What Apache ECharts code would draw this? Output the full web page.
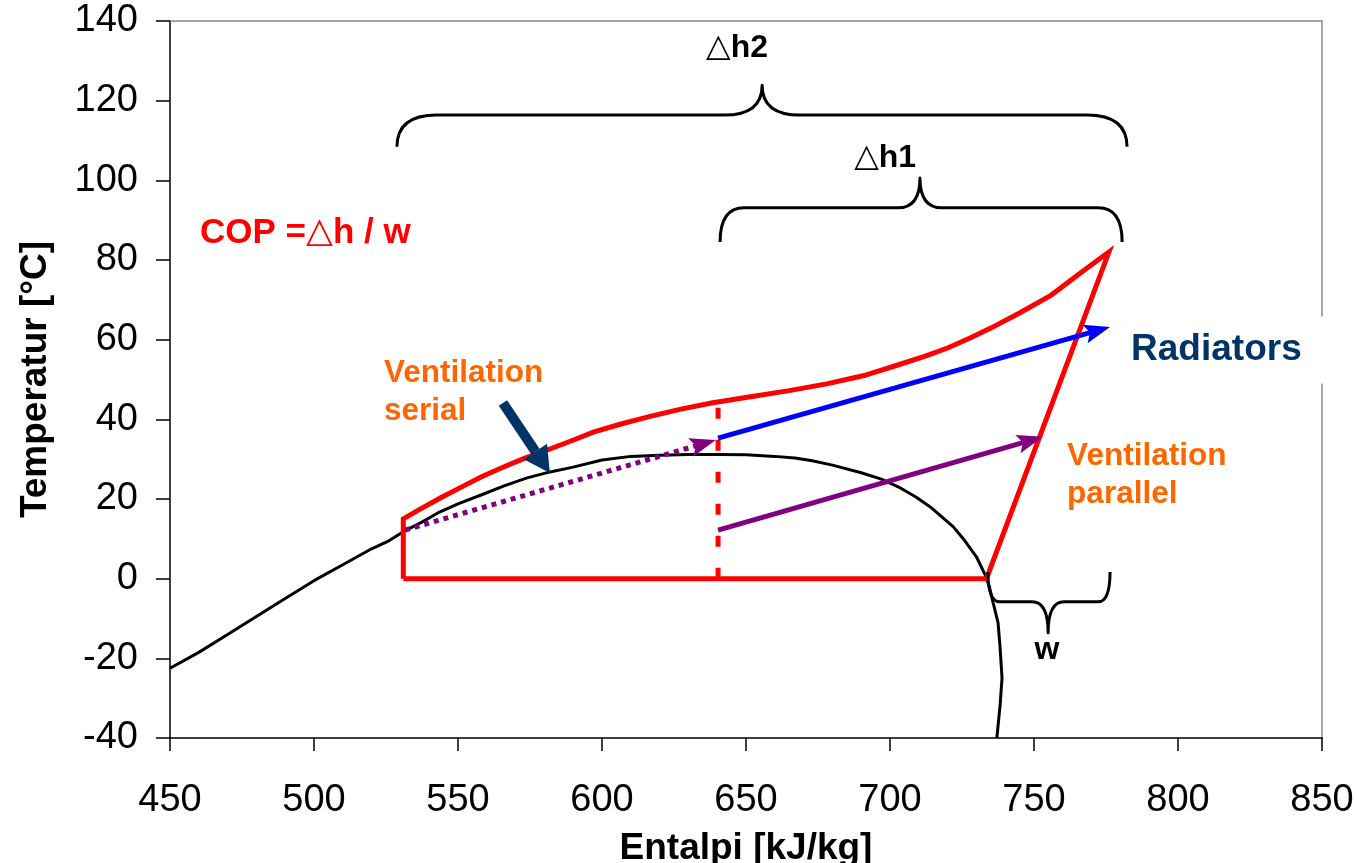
<!DOCTYPE html>
<html>
<head>
<meta charset="utf-8">
<script src="https://cdn.jsdelivr.net/npm/echarts@6/dist/echarts.min.js"></script>
<style>
html,body{margin:0;padding:0;background:#fff;}
#chart{width:1357px;height:863px;}
</style>
</head>
<body>
<div id="chart"></div>
<script>
// ---------- data ----------
const xTickMin = 450, xTickMax = 850, xTickStep = 50;
const yTickMin = -40, yTickMax = 140, yTickStep = 20;

// saturation curve (black)
const saturationCurve = [
  [450,-22.5],[460,-18.5],[470,-14],[480,-9.5],[490,-5],[500,-0.5],[510,3.5],[520,7.5],
  [526,9.5],[531,11.8],[537,14],[543,16.5],[550,18.8],[558,21],[566,23.3],[574,25.3],
  [582,26.8],[590,28],[600,29.8],[610,30.7],[620,31],[630,31.2],[640,31.2],[650,31.1],
  [660,30.7],[667,30.3],[673,29.6],[680,28.5],[690,26.6],[697,25],[703,23],[709,20.5],
  [714,18],[718,15.5],[722,13],[726,9.5],[730,5.5],[733,1],[734.5,-2],[735.8,-6],
  [737.5,-11],[738.2,-17],[738.9,-25],[738.2,-32],[737.1,-40]
];

// heat pump cycle (red)
const cycle = [
  [531,0],[531,15],[537,17.5],[544,20.3],[552,23.3],[558,25.5],[565,27.8],[573,30.2],
  [581,32.3],[589,34.5],[597,36.8],[606,38.7],[616,40.6],[627,42.5],[638,44.1],[651,45.6],
  [665,47.2],[678,48.9],[691,51],[703,53.7],[712,55.8],[720,57.9],[728,60.5],[735,62.9],
  [745,66.7],[756,71.2],[766,76.7],[776,82],[733.5,0],[531,0]
];

// dashed red vertical
const splitLine = [[640.3,0],[640.3,44]];

// arrows [x1,y1,x2,y2]
const arrowRadiators = [640.3,35.3,776.4,63.2];
const arrowParallel  = [640.3,12.2,753.1,35.6];
const arrowSerial    = [531.6,12.2,639.5,34.8];
const arrowPointer   = [565.6,44.1,581.9,26.5];

// braces [x1, x2, xTip, yEnd, yBar, yTip]
const braceH2 = [528.8,782.3,655.6,108.4,116.4,123.9];
const braceH1 = [641.0,780.6,710.4,84.5,93.1,100.6];
const braceW  = [734.0,776.4,754.9,1.7,-5.8,-13.6];

// text annotations
const labelH2 = [646.9,133.2];
const labelH1 = [698.3,105.6];
const labelCOP = [460.4,86.8];
const labelSerial = [524.3,46.9];
const labelParallel = [761.5,25.9];
const labelRadiators = [783.7,57.4];
const labelW = [754.5,-17.9];

// ---------- chart ----------
const FONT = '"Liberation Sans", Arial, sans-serif';
const chart = echarts.init(document.getElementById('chart'), null, {renderer:'canvas'});

function arrowSeries(vals, cfg){
  return {
    type:'custom', z: cfg.z || 5, silent:true,
    data:[vals],
    encode:{x:[0,2], y:[1,3]},
    renderItem:function(params, api){
      const p1 = api.coord([api.value(0), api.value(1)]);
      const p2 = api.coord([api.value(2), api.value(3)]);
      const dx = p2[0]-p1[0], dy = p2[1]-p1[1];
      const len = Math.hypot(dx,dy);
      const ux = dx/len, uy = dy/len, nx = -uy, ny = ux;
      const bx = p2[0]-ux*cfg.head, by = p2[1]-uy*cfg.head;
      const nr = cfg.head*(1-cfg.notch);
      const ex = p2[0]-ux*nr, ey = p2[1]-uy*nr;
      const hw = cfg.width/2;
      return {type:'group', children:[
        {type:'line', shape:{x1:p1[0],y1:p1[1],x2:ex,y2:ey},
         style:{stroke:cfg.color, lineWidth:cfg.lw, lineDash:cfg.dash||null, lineCap:'butt'}},
        {type:'polygon', shape:{points:[[p2[0],p2[1]],[bx+nx*hw,by+ny*hw],[ex,ey],[bx-nx*hw,by-ny*hw]]},
         style:{fill:cfg.color}}
      ]};
    }
  };
}

function braceSeries(vals, rEnd, rTip){
  return {
    type:'custom', z:6, silent:true,
    data:[vals],
    encode:{x:[0,1,2], y:[3,4,5]},
    renderItem:function(params, api){
      const L = api.coord([api.value(0), api.value(3)]);
      const R = api.coord([api.value(1), api.value(3)]);
      const barY = api.coord([api.value(0), api.value(4)])[1];
      const T = api.coord([api.value(2), api.value(5)]);
      const d = 'M'+L[0]+' '+L[1]+
        ' Q'+L[0]+' '+barY+' '+(L[0]+rEnd)+' '+barY+
        ' L'+(T[0]-rTip)+' '+barY+
        ' Q'+T[0]+' '+barY+' '+T[0]+' '+T[1]+
        ' Q'+T[0]+' '+barY+' '+(T[0]+rTip)+' '+barY+
        ' L'+(R[0]-rEnd)+' '+barY+
        ' Q'+R[0]+' '+barY+' '+R[0]+' '+R[1];
      return {type:'path', shape:{pathData:d},
        style:{stroke:'#000', fill:null, lineWidth:3, lineJoin:'round'}};
    }
  };
}

const triStyle = {fontFamily:'"DejaVu Sans", sans-serif', fontWeight:'normal'};

const option = {
  animation:false,
  backgroundColor:'#fff',
  grid:{left:170, right:35, top:21, bottom:125, containLabel:false, outerBoundsMode:'none'},
  xAxis:[{
    type:'value', min:xTickMin, max:xTickMax, interval:xTickStep,
    name:'Entalpi [kJ/kg]', nameLocation:'middle', nameGap:92,
    nameTextStyle:{fontFamily:FONT, fontWeight:'bold', fontSize:37, color:'#000'},
    axisLine:{show:true, onZero:false, lineStyle:{color:'#000', width:1.5}},
    axisTick:{show:true, inside:false, length:13, lineStyle:{color:'#000', width:1.5}},
    axisLabel:{fontFamily:FONT, fontSize:38, color:'#000', margin:44},
    splitLine:{show:false}
  },{
    type:'value', position:'top', min:xTickMin, max:xTickMax,
    axisLine:{show:true, onZero:false, lineStyle:{color:'#888', width:1.5}},
    axisTick:{show:false}, axisLabel:{show:false}, splitLine:{show:false}
  }],
  yAxis:[{
    type:'value', min:yTickMin, max:yTickMax, interval:yTickStep,
    name:'Temperatur [°C]', nameLocation:'middle', nameGap:116, nameRotate:90,
    nameTextStyle:{fontFamily:FONT, fontWeight:'bold', fontSize:37, color:'#000'},
    axisLine:{show:true, onZero:false, lineStyle:{color:'#000', width:1.5}},
    axisTick:{show:true, inside:false, length:14, lineStyle:{color:'#000', width:1.5}},
    axisLabel:{fontFamily:FONT, fontSize:38, color:'#000', margin:32},
    splitLine:{show:false}
  },{
    type:'value', position:'right', min:yTickMin, max:yTickMax,
    axisLine:{show:true, onZero:false, lineStyle:{color:'#888', width:1.5}},
    axisTick:{show:false}, axisLabel:{show:false}, splitLine:{show:false}
  }],
  series:[
    {type:'line', data:saturationCurve, symbol:'none', z:2, silent:true,
     lineStyle:{color:'#000', width:3}},
    {type:'line', data:cycle, symbol:'none', z:3, silent:true,
     lineStyle:{color:'#ff0000', width:5, join:'miter'}},
    {type:'line', data:splitLine, symbol:'none', z:3, silent:true,
     lineStyle:{color:'#ff0000', width:5, type:[11,21], cap:'butt'}},
    arrowSeries(arrowSerial, {color:'#800080', lw:5, dash:[5,5], head:26, width:19, notch:0.2}),
    arrowSeries(arrowRadiators, {color:'#0000ff', lw:5, head:26, width:19, notch:0.2}),
    arrowSeries(arrowParallel, {color:'#800080', lw:5, head:26, width:19, notch:0.2}),
    arrowSeries(arrowPointer, {color:'#003366', lw:10, head:26, width:28, notch:0, z:7}),
    braceSeries(braceH2, 40, 38),
    braceSeries(braceH1, 24, 22),
    braceSeries(braceW, 12, 16),
    {type:'scatter', symbolSize:0, z:20, silent:true,
     itemStyle:{opacity:1},
     data:[
       {value:labelH2, label:{show:true, position:'inside', formatter:'{t|△}h2',
         fontFamily:FONT, fontWeight:'bold', fontSize:32, color:'#000',
         rich:{t:Object.assign({fontSize:32, color:'#000'}, triStyle)}}},
       {value:labelH1, label:{show:true, position:'inside', formatter:'{t|△}h1',
         fontFamily:FONT, fontWeight:'bold', fontSize:32, color:'#000',
         rich:{t:Object.assign({fontSize:32, color:'#000'}, triStyle)}}},
       {value:labelCOP, label:{show:true, position:'right', distance:0, formatter:'COP ={t|△}h / w',
         fontFamily:FONT, fontWeight:'bold', fontSize:35, color:'#ff0000',
         rich:{t:Object.assign({fontSize:35, color:'#ff0000'}, triStyle)}}},
       {value:labelSerial, label:{show:true, position:'right', distance:0, formatter:'Ventilation\nserial',
         fontFamily:FONT, fontWeight:'bold', fontSize:31.5, lineHeight:38, color:'#ff6600'}},
       {value:labelParallel, label:{show:true, position:'right', distance:0, formatter:'Ventilation\nparallel',
         fontFamily:FONT, fontWeight:'bold', fontSize:31.5, lineHeight:38, color:'#ff6600'}},
       {value:labelRadiators, label:{show:true, position:'right', distance:-6, formatter:'Radiators',
         fontFamily:FONT, fontWeight:'bold', fontSize:37, color:'#003366',
         backgroundColor:'#fff', padding:[15,40,15,6]}},
       {value:labelW, label:{show:true, position:'inside', formatter:'w',
         fontFamily:FONT, fontWeight:'bold', fontSize:32, color:'#000'}}
     ]}
  ]
};
chart.setOption(option);
</script>
</body>
</html>
